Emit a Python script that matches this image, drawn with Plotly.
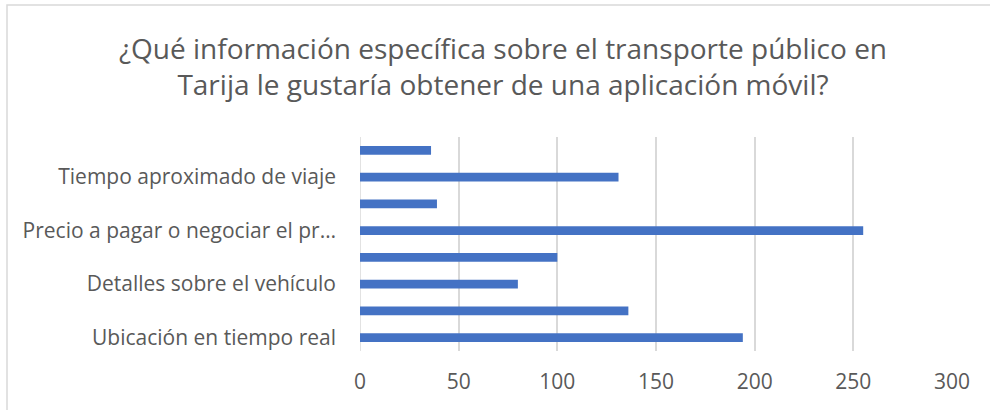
import plotly.graph_objects as go

# Categories from bottom to top
categories = [
    "Ubicación en tiempo real",
    "Rutas y paradas",
    "Detalles sobre el vehículo",
    "Horarios de paso",
    "Precio a pagar o negociar el precio",
    "Información del conductor",
    "Tiempo aproximado de viaje",
    "Otros",
]
values = [194, 136, 80, 100, 255, 39, 131, 36]
tick_labels = [
    "Ubicación en tiempo real",
    "",
    "Detalles sobre el vehículo",
    "",
    "Precio a pagar o negociar el pr…",
    "",
    "Tiempo aproximado de viaje",
    "",
]
x_ticks = [0, 50, 100, 150, 200, 250, 300]

title_text = "¿Qué información específica sobre el transporte público en<br>Tarija le gustaría obtener de una aplicación móvil?"

W, H = 990, 410
L, R, T, B = 360, 38, 137, 59
pw, ph = W - L - R, H - T - B

def px_x(x):
    return (x - L) / pw

def px_y(y):
    return (H - B - y) / ph

fig = go.Figure(
    go.Bar(
        x=values,
        y=categories,
        orientation="h",
        marker=dict(color="#4472c4", line=dict(width=0)),
        width=0.33,
    )
)

fig.update_layout(
    width=W,
    height=H,
    margin=dict(l=L, r=R, t=T, b=B, autoexpand=False),
    paper_bgcolor="white",
    plot_bgcolor="white",
    showlegend=False,
    font=dict(family="Open Sans", color="#595959"),
    title=dict(
        text=title_text,
        x=503 / W,
        xanchor="center",
        xref="container",
        y=1 - 59 / H,
        yanchor="middle",
        yref="container",
        font=dict(family="Open Sans", size=28, color="#595959"),
    ),
    xaxis=dict(
        range=[0, 300],
        tickvals=x_ticks,
        showgrid=True,
        gridcolor="#d9d9d9",
        gridwidth=1.5,
        zeroline=False,
        showline=False,
        tickfont=dict(size=21, color="#595959"),
        ticks="",
        ticklabelstandoff=16,
        automargin=False,
    ),
    yaxis=dict(
        categoryorder="array",
        categoryarray=categories,
        tickvals=categories,
        ticktext=tick_labels,
        showgrid=False,
        zeroline=False,
        showline=False,
        ticks="",
        tickfont=dict(size=21, color="#595959"),
        ticklabelstandoff=23,
        automargin=False,
    ),
    shapes=[
        dict(
            type="rect",
            xref="paper",
            yref="paper",
            x0=px_x(7),
            x1=px_x(1005),
            y0=px_y(425),
            y1=px_y(5),
            line=dict(color="#d9d9d9", width=1.5),
            fillcolor="rgba(0,0,0,0)",
            layer="below",
        ),
        dict(
            type="line",
            xref="x",
            yref="paper",
            x0=0,
            x1=0,
            y0=0,
            y1=1,
            line=dict(color="#d9d9d9", width=1.5),
            layer="below",
        ),
    ],
)

fig.write_html(
    "out.html",
    config={"displayModeBar": False},
    post_script="document.body.style.margin='0';document.body.style.overflow='hidden';",
)
